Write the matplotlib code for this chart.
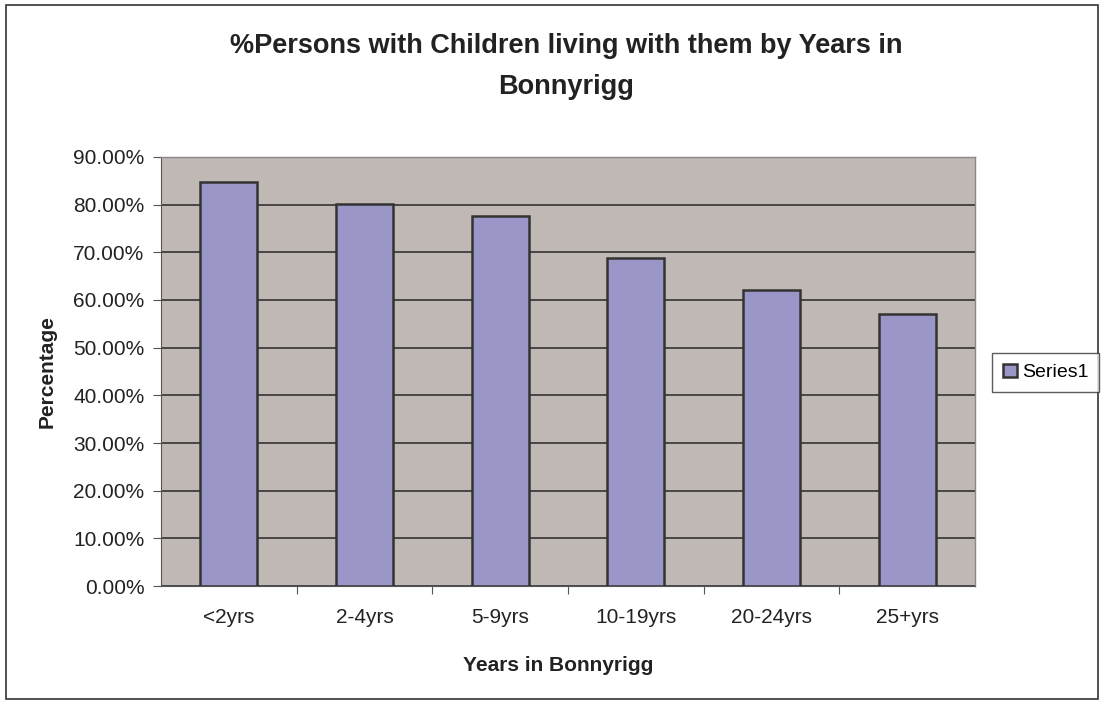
import matplotlib
matplotlib.use('Agg')
import matplotlib.pyplot as plt
from matplotlib.patches import Rectangle
from matplotlib.ticker import FuncFormatter, MultipleLocator

plt.rcParams['font.family'] = ['Liberation Sans', 'DejaVu Sans']

categories = ['<2yrs', '2-4yrs', '5-9yrs', '10-19yrs', '20-24yrs', '25+yrs']
values = [84.7, 80.1, 77.6, 68.8, 62.1, 57.1]
series_name = 'Series1'

fig = plt.figure(figsize=(11.04, 7.04), dpi=100)
fig.patches.append(Rectangle((0.005, 0.007), 0.99, 0.986, transform=fig.transFigure,
                             fill=False, edgecolor='#333333', linewidth=1.2))

ax = fig.add_axes([0.1458, 0.1676, 0.7374, 0.6094])
ax.set_facecolor('#C0B8B5')
ax.set_axisbelow(True)
ax.yaxis.grid(True, color='#333333', linewidth=1.2)

x = range(len(categories))
ax.bar(x, values, width=0.42, color='#9B96C8', edgecolor='#333333', linewidth=1.8,
       label=series_name, zorder=3)

ax.set_xlim(-0.5, len(categories) - 0.5)
ax.set_ylim(0, 90)
ax.yaxis.set_major_locator(MultipleLocator(10))
ax.yaxis.set_major_formatter(FuncFormatter(lambda v, p: '%.2f%%' % v))
ax.set_xticks([i + 0.5 for i in range(len(categories) - 1)], minor=False)
ax.set_xticklabels([])
ax.set_xticks(list(x), minor=True)
ax.set_xticklabels(categories, minor=True)
ax.tick_params(axis='x', which='minor', length=0, pad=16, labelsize=15, colors='#222222')
ax.tick_params(axis='x', which='major', length=6, direction='out', color='#555555')
ax.tick_params(axis='y', length=6, direction='out', labelsize=15, pad=6,
               colors='#222222', color='#555555')

for side in ['top', 'right']:
    ax.spines[side].set_color('#888888')
    ax.spines[side].set_linewidth(1.0)
ax.spines['left'].set_color('#555555')
ax.spines['bottom'].set_color('#555555')

ax.set_xlabel('Years in Bonnyrigg', fontsize=15, fontweight='bold', color='#222222')
ax.set_ylabel('Percentage', fontsize=15, fontweight='bold', color='#222222')
ax.xaxis.set_label_coords(0.488, -0.163)
ax.yaxis.set_label_coords(-0.128, 0.5)

fig.text(0.513, 0.906, '%Persons with Children living with them by Years in\nBonnyrigg',
         ha='center', va='center', fontsize=19.5, fontweight='bold', color='#222222',
         linespacing=1.75)

leg = fig.legend(loc='center left', bbox_to_anchor=(0.899, 0.471), fontsize=14,
                 frameon=True, fancybox=False, edgecolor='#333333', handlelength=0.7,
                 handleheight=0.7, handletextpad=0.25, borderpad=0.55, borderaxespad=0)
leg.get_frame().set_linewidth(1.0)

fig.savefig('out.png', dpi=100)
